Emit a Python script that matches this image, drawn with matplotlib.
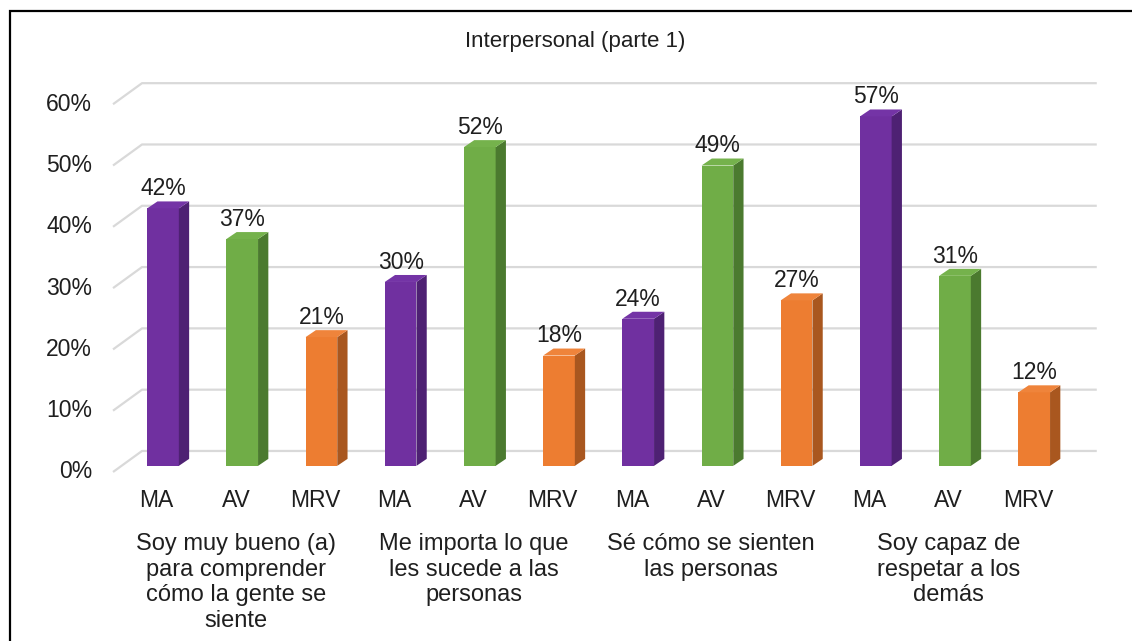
import matplotlib
matplotlib.use('Agg')
import matplotlib.pyplot as plt
from matplotlib.patches import Polygon, Rectangle

# data
group_labels = ['Soy muy bueno (a)\npara comprender\ncómo la gente se\nsiente',
                'Me importa lo que\nles sucede a las\npersonas',
                'Sé cómo se sienten\nlas personas',
                'Soy capaz de\nrespetar a los\ndemás']
series_names = ['MA', 'AV', 'MRV']
ma_values = [42, 30, 24, 57]
av_values = [37, 52, 49, 31]
mrv_values = [21, 18, 27, 12]
y_ticks = [0, 10, 20, 30, 40, 50, 60]
title = 'Interpersonal (parte 1)'

# figure parameters
FONT = 'Liberation Sans'
LABEL_SIZE = 16.5
GROUP_SIZE = 17
TITLE_SIZE = 16
face_colors = ['#7030A0', '#70AD47', '#ED7D31']
side_colors = ['#4E2173', '#4B7A2F', '#A9571F']
top_colors = ['#7434A6', '#75B24C', '#EF843B']
GRID_COLOR = '#D9D9D9'
TEXT_COLOR = '#1F1F1F'

# 3d look (data units)
HALF_W = 0.2
BASE = 1.0
SIDE_X, SIDE_Y = 0.13, 1.14
WALL_X, WALL_Y = 0.366, 3.43
FLOOR_LEFT, WALL_RIGHT = -0.631, 11.79

plt.rcParams['font.family'] = [FONT, 'DejaVu Sans']

fig = plt.figure(figsize=(11.32, 6.41), dpi=100)
ax = fig.add_axes([100 / 1132, 1 - 480 / 641, 1010 / 1132, 420 / 641])
ax.set_xlim((100 - 163) / 79.2, (1110 - 163) / 79.2)
ax.set_ylim((472 - 480) / 6.13, (472 - 60) / 6.13)
ax.axis('off')

# back wall grid + y labels
for v in y_ticks:
    ax.plot([FLOOR_LEFT, FLOOR_LEFT + WALL_X, WALL_RIGHT], [v, v + WALL_Y, v + WALL_Y],
            color=GRID_COLOR, lw=1.6, zorder=1, solid_capstyle='butt')
    ax.text(-0.896, v, '%d%%' % v, ha='right', va='center', fontsize=LABEL_SIZE,
            color=TEXT_COLOR, clip_on=False)

# bars
values = [ma_values, av_values, mrv_values]
n_series = len(series_names)
for g in range(len(group_labels)):
    for s in range(n_series):
        c = g * n_series + s
        v = values[s][g]
        x0, x1 = c - HALF_W, c + HALF_W
        b, t = BASE, BASE + v
        front = Polygon([(x0, b), (x1, b), (x1, t), (x0, t)], closed=True,
                        facecolor=face_colors[s], edgecolor='none', zorder=3)
        side = Polygon([(x1, b), (x1 + SIDE_X, b + SIDE_Y), (x1 + SIDE_X, t + SIDE_Y), (x1, t)],
                       closed=True, facecolor=side_colors[s], edgecolor='none', zorder=3)
        top = Polygon([(x0, t), (x1, t), (x1 + SIDE_X, t + SIDE_Y), (x0 + SIDE_X, t + SIDE_Y)],
                      closed=True, facecolor=top_colors[s], edgecolor='none', zorder=3)
        for p in (front, side, top):
            ax.add_patch(p)
        ax.text(c, t + SIDE_Y + 1.0, '%d%%' % v, ha='center', va='baseline',
                fontsize=LABEL_SIZE, color=TEXT_COLOR, zorder=4)
        ax.text(c - 0.08, -5.7, series_names[s], ha='center', va='baseline',
                fontsize=LABEL_SIZE, color=TEXT_COLOR, clip_on=False)
    ax.text(g * n_series + 1 - 0.08, -9.95, group_labels[g], ha='center', va='top',
            fontsize=GROUP_SIZE, color=TEXT_COLOR, linespacing=1.22, clip_on=False)

fig.text(575 / 1132, 1 - 42 / 641, title, ha='center', va='center', fontsize=TITLE_SIZE,
         color=TEXT_COLOR)

# chart border (cropped at right and bottom)
fig.patches.append(Rectangle((10 / 1132, -0.1), 1.2, 1 - 11 / 641 + 0.1, transform=fig.transFigure,
                             fill=False, edgecolor='black', lw=1.6))

fig.savefig('out.png', dpi=100)
